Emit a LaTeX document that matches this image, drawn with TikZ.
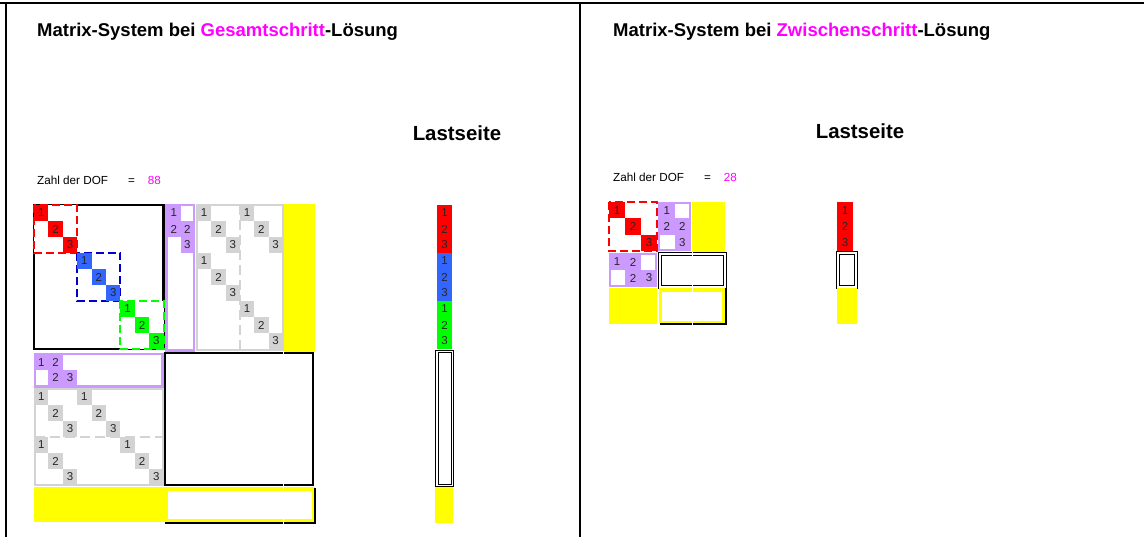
\documentclass[tikz,border=0pt]{standalone}
\usepackage{fontspec}
\setmainfont{Liberation Sans}
\definecolor{purp}{HTML}{CC99FF}
\definecolor{lgray}{HTML}{D3D3D3}
\definecolor{eqblue}{HTML}{3366FF}
\definecolor{dblue}{HTML}{0000CC}
\definecolor{mag}{HTML}{FF00FF}
\definecolor{lime}{HTML}{00FF00}
\definecolor{yel}{HTML}{FFFF00}
\tikzset{
  num/.style={text=black!85, font=\fontsize{11.5}{11.5}\selectfont, inner sep=0pt},
  titletext/.style={anchor=west, font=\fontsize{18.5}{20}\selectfont\bfseries, inner sep=0pt},
  rhstext/.style={font=\fontsize{20.4}{22}\selectfont\bfseries, inner sep=0pt},
  doftext/.style={anchor=west, font=\fontsize{11.7}{13}\selectfont, inner sep=0pt},
  blockline/.style={dash pattern=on 8pt off 4pt, line width=2pt, fill=white},
  dbox/.style={double, double distance=1.5pt, line width=1.2pt, fill=white},
  shadow/.style={line width=1.5pt},
}
\begin{document}
\begin{tikzpicture}[x=1pt,y=-1pt]
  \useasboundingbox (0,0) rectangle (1144,537);
  \draw[line width=2pt] (0,3.5) -- (1144,3.5);
  \draw[line width=2pt] (6,3.5) -- (6,537);
  \draw[line width=2pt] (580,3.5) -- (580,537);

  \node[titletext] (titleL) at (37,32) {Matrix-System bei \textcolor{mag}{Gesamtschritt}-Lösung};
  \node[titletext] (titleR) at (613,32) {Matrix-System bei \textcolor{mag}{Zwischenschritt}-Lösung};
  \node[rhstext] (lastL) at (457,133) {Lastseite};
  \node[rhstext] (lastR) at (860,131) {Lastseite};
  \node[doftext] (dofL) at (37,180) {Zahl der DOF\hspace{20pt}=\hspace{13pt}\textcolor{mag}{88}};
  \node[doftext] (dofR) at (613,177) {Zahl der DOF\hspace{20pt}=\hspace{13pt}\textcolor{mag}{28}};

  % Gesamtschritt
  \draw[line width=2.5pt] (34,205) rectangle (163.6,349);
  \foreach \k/\fc/\bc in {0/red/red,1/eqblue/dblue,2/lime/lime}{
    \draw[blockline, draw=\bc] ({34+43.2*\k},{205+48*\k}) rectangle ++(43.2,48);
    \foreach \i/\n in {0/1,1/2,2/3}
      \fill[\fc] ({34+43.2*\k+14.4*\i},{205+48*\k+16*\i}) rectangle node[num]{\n} ++(14.4,16);
  }
  \draw[purp, line width=2.5pt] (166.5,205) rectangle (194,350.5);
  \foreach \r/\s/\n in {0/0/1,1/0/2,1/1/2,2/1/3}
    \fill[purp] ({167+13.5*\s},{205+16*\r}) rectangle node[num]{\n} ++(13.5,16);
  \draw[lgray, line width=2pt] (197,205) rectangle (283,350.5);
  \draw[lgray, line width=2pt, dash pattern=on 10pt off 5pt] (240,205) -- (240,350);
  \foreach \r/\s/\n in {0/0/1,1/1/2,2/2/3,0/3/1,1/4/2,2/5/3,3/0/1,4/1/2,5/2/3,6/3/1,7/4/2,8/5/3}
    \fill[lgray] ({197+14.3*\s},{205+16*\r}) rectangle node[num]{\n} ++(14.3,16);
  \fill[yel] (284,204) rectangle (315,352);

  \draw[purp, line width=2.5pt] (35,354) rectangle (162.5,386.5);
  \foreach \r/\s/\n in {0/0/1,0/1/2,1/1/2,1/2/3}
    \fill[purp] ({34+14.4*\s},{355+15*\r}) rectangle node[num]{\n} ++(14.4,15);
  \draw[lgray, line width=2pt] (35,389) rectangle (162.5,485);
  \draw[lgray, line width=2pt, dash pattern=on 10pt off 5pt] (35,437) -- (162.5,437);
  \foreach \r/\s/\n in {0/0/1,1/1/2,2/2/3,0/3/1,1/4/2,2/5/3,3/0/1,4/1/2,5/2/3,3/6/1,4/7/2,5/8/3}
    \fill[lgray] ({34+14.4*\s},{389+16*\r}) rectangle node[num]{\n} ++(14.4,16);
  \fill[yel] (34,487) rectangle (163,522);

  \draw[line width=2.5pt, fill=white] (165,353) rectangle (313,485);
  \fill[yel] (163,487) rectangle (315,522);
  \fill[white] (168,491) rectangle (312,519);
  \draw[shadow] (315,488) -- (315,523) -- (165,523);
  \draw[white, line width=1pt] (283,351) -- (283,524);

  \foreach \k/\fc in {0/red,1/eqblue,2/lime}
    \foreach \i/\n in {0/1,1/2,2/3}
      \fill[\fc] (437,{205+48*\k+16*\i}) rectangle node[num]{\n} ++(15,16);
  \draw[dbox] (437,351.5) rectangle (452.5,485.5);
  \fill[yel] (435,487) rectangle (453,523);

  % Zwischenschritt
  \draw[blockline, draw=red] (609,202) rectangle (657,251);
  \foreach \i/\n in {0/1,1/2,2/3}
    \fill[red] ({609+16*\i},{202+16.3*\i}) rectangle node[num]{\n} ++(16,16.3);
  \draw[purp, line width=2pt] (659,203) rectangle (690,250);
  \foreach \r/\s/\n in {0/0/1,1/0/2,1/1/2,2/1/3}
    \fill[purp] ({659+15.5*\s},{202+16.3*\r}) rectangle node[num]{\n} ++(15.5,16.3);
  \fill[yel] (692,202) rectangle (725,252);

  \draw[purp, line width=2pt] (610,254) rectangle (656,286);
  \foreach \r/\s/\n in {0/0/1,0/1/2,1/1/2,1/2/3}
    \fill[purp] ({609+16*\s},{254+16*\r}) rectangle node[num]{\n} ++(16,16);
  \draw[dbox] (660,254) rectangle (725,287);
  \fill[yel] (609,288) rectangle (657,324);
  \fill[yel] (659,288) rectangle (725,323);
  \fill[white] (662,292) rectangle (722,321);
  \draw[shadow] (726,288) -- (726,324) -- (660,324);
  \draw[white, line width=1pt] (692,252) -- (692,325);

  \foreach \i/\n in {0/1,1/2,2/3}
    \fill[red] (837,{202+16.3*\i}) rectangle node[num]{\n} ++(16,16.3);
  \draw[dbox] (838,253) rectangle (856,287);
  \fill[yel] (837,288) rectangle (857,324);
\end{tikzpicture}
\end{document}
